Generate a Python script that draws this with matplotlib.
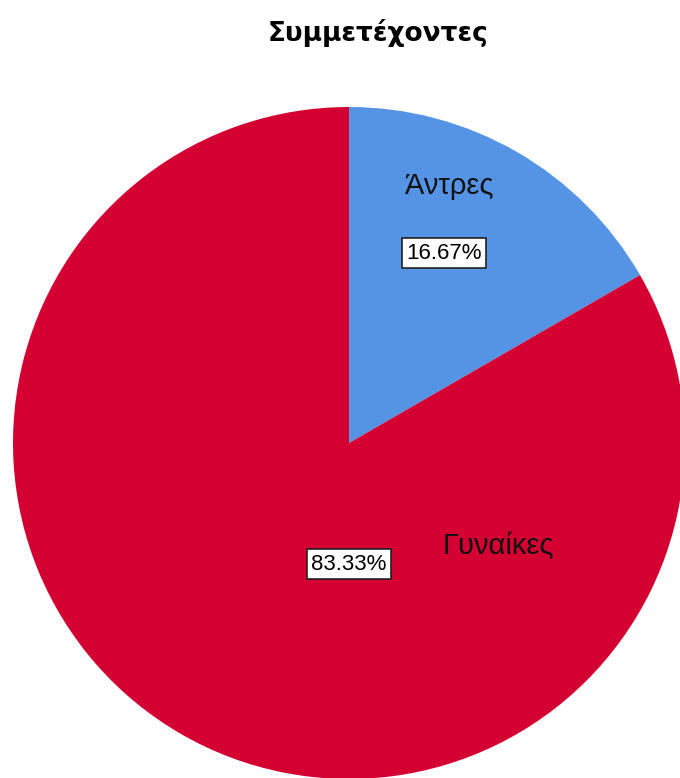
import matplotlib.pyplot as plt

labels = ['Άντρες', 'Γυναίκες']
shares = [16.67, 83.33]
colors = ['#5594E5', '#D50032']
title = 'Συμμετέχοντες'

W, H = 680, 778
fig = plt.figure(figsize=(W / 100, H / 100), dpi=100)
ax = fig.add_axes([0, 0, 1, 1])

cx, cy, r = 349, H - 443, 336
wedges, _ = ax.pie(shares, colors=colors, startangle=90, counterclock=False,
                   center=(cx, cy), radius=r, frame=True,
                   wedgeprops=dict(linewidth=0))
ax.set_xlim(0, W)
ax.set_ylim(0, H)
ax.axis('off')

ax.text(378, H - 33, title, ha='center', va='center', fontsize=19,
        fontweight='bold', family='DejaVu Sans')

# category names and percentage boxes inside the slices
name_pos = [(449, 186), (498, 546)]
pct_pos = [(444, 253), (349, 564)]
for lab, val, (nx, ny), (px, py) in zip(labels, shares, name_pos, pct_pos):
    ax.text(nx, H - ny, lab, ha='center', va='center', fontsize=21,
            family='Liberation Sans', color='#111111')
    ax.text(px, H - py, f'{val:.2f}%', ha='center', va='center', fontsize=16,
            family='Liberation Sans',
            bbox=dict(boxstyle='square,pad=0.2', fc='white', ec='#222222', lw=1.2))

fig.savefig('out.png', dpi=100)
